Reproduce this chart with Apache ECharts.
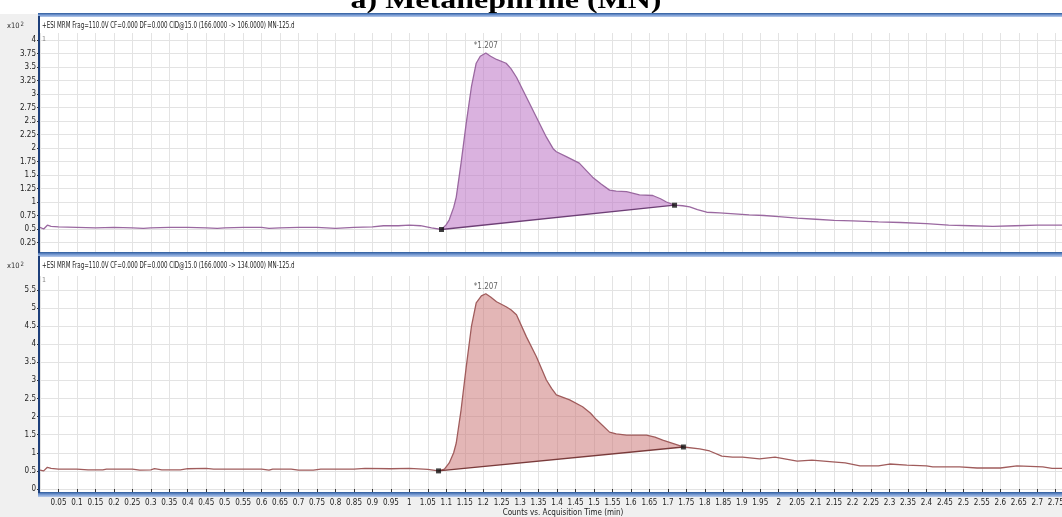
<!DOCTYPE html>
<html><head><meta charset="utf-8">
<script src="https://cdn.jsdelivr.net/npm/echarts@6/dist/echarts.min.js"></script>
<style>html,body{margin:0;padding:0;background:#fff}#c{width:1062px;height:517px}</style>
</head><body><div id="c"></div><script>
// ---- data (counts x10^2 vs acquisition time, min) ----
const topTime = [0.00,0.01,0.02,0.03,0.05,0.10,0.15,0.20,0.25,0.28,0.30,0.35,0.40,0.45,0.48,0.50,0.55,0.60,0.62,0.65,0.70,0.75,0.80,0.85,0.90,0.93,0.97,1.00,1.03,1.06,1.087,1.10,1.108,1.12,1.127,1.14,1.154,1.168,1.181,1.192,1.207,1.22,1.236,1.262,1.275,1.29,1.317,1.344,1.371,1.39,1.398,1.425,1.46,1.496,1.52,1.542,1.56,1.588,1.623,1.659,1.68,1.696,1.718,1.74,1.759,1.78,1.805,1.84,1.88,1.92,1.96,2.00,2.05,2.10,2.15,2.20,2.27,2.33,2.40,2.46,2.52,2.58,2.64,2.70,2.77];
const topCounts = [0.53,0.50,0.57,0.55,0.54,0.53,0.52,0.53,0.52,0.51,0.52,0.53,0.53,0.52,0.51,0.52,0.53,0.53,0.51,0.52,0.53,0.53,0.51,0.53,0.54,0.56,0.56,0.57,0.56,0.52,0.49,0.58,0.67,0.90,1.09,1.72,2.46,3.13,3.57,3.70,3.76,3.70,3.64,3.57,3.47,3.31,2.94,2.57,2.20,1.98,1.93,1.84,1.72,1.46,1.33,1.22,1.20,1.19,1.13,1.12,1.06,1.00,0.94,0.93,0.91,0.86,0.81,0.80,0.78,0.76,0.75,0.73,0.70,0.68,0.66,0.65,0.63,0.62,0.60,0.57,0.56,0.55,0.56,0.57,0.57];
const topStart = [1.087, 0.49];
const topEnd = [1.718, 0.94];
const topPeak = [1.207, 3.76];

const botTime = [0.00,0.01,0.02,0.03,0.05,0.10,0.13,0.17,0.18,0.25,0.27,0.30,0.31,0.33,0.38,0.40,0.45,0.47,0.60,0.62,0.63,0.68,0.70,0.74,0.76,0.85,0.88,0.95,1.00,1.05,1.079,1.095,1.108,1.12,1.127,1.14,1.154,1.168,1.181,1.195,1.207,1.22,1.236,1.262,1.275,1.29,1.317,1.344,1.371,1.385,1.398,1.434,1.469,1.49,1.507,1.542,1.56,1.588,1.642,1.665,1.686,1.742,1.786,1.813,1.846,1.875,1.902,1.948,1.99,2.05,2.09,2.146,2.18,2.22,2.27,2.30,2.347,2.40,2.417,2.49,2.537,2.60,2.645,2.715,2.74,2.77];
const botCounts = [0.52,0.50,0.60,0.57,0.55,0.55,0.53,0.53,0.55,0.55,0.52,0.53,0.56,0.53,0.53,0.56,0.57,0.55,0.55,0.52,0.55,0.55,0.52,0.52,0.55,0.55,0.57,0.56,0.57,0.54,0.50,0.55,0.72,1.00,1.27,2.18,3.37,4.48,5.14,5.33,5.39,5.30,5.17,5.03,4.95,4.81,4.20,3.65,3.01,2.78,2.60,2.46,2.27,2.10,1.91,1.57,1.52,1.49,1.49,1.43,1.35,1.16,1.11,1.05,0.91,0.88,0.88,0.83,0.88,0.77,0.80,0.75,0.72,0.64,0.64,0.69,0.66,0.64,0.61,0.61,0.58,0.58,0.64,0.61,0.57,0.57];
const botStart = [1.079, 0.50];
const botEnd = [1.742, 1.16];
const botPeak = [1.207, 5.39];

const topYTicks = [0.25,0.5,0.75,1,1.25,1.5,1.75,2,2.25,2.5,2.75,3,3.25,3.5,3.75,4];
const botYTicks = [0,0.5,1,1.5,2,2.5,3,3.5,4,4.5,5,5.5];
const topHeader = '+ESI MRM Frag=110.0V CF=0.000 DF=0.000 CID@15.0 (166.0000 -> 106.0000) MN-125.d';
const botHeader = '+ESI MRM Frag=110.0V CF=0.000 DF=0.000 CID@15.0 (166.0000 -> 134.0000) MN-125.d';
const titleText = 'a) Metanephrine (MN)';
const xAxisName = 'Counts vs. Acquisition Time (min)';

// ---- build ----
const FONT = "'Liberation Sans Narrow','DejaVu Sans Condensed',sans-serif";
const GRID_LINE = {show:true, lineStyle:{color:'#e3e3e3', width:1}};
const chart = echarts.init(document.getElementById('c'));

function pairs(t, c){ return t.map((x,i)=>[x,c[i]]); }
function fillSeries(gi, t, c, s, e, color){
  const pts = [s];
  t.forEach((x,i)=>{ if (x > s[0] && x < e[0]) pts.push([x, c[i]]); });
  pts.push(e);
  return {type:'custom', xAxisIndex:gi, yAxisIndex:gi, data:pts, encode:{x:0,y:1}, z:1, silent:true, clip:true,
    renderItem:(params, api)=>{
      if (params.dataIndex !== 0) return null;
      return {type:'polygon', shape:{points: pts.map(p=>api.coord(p))}, style:{fill:color}};
    }};
}
function panelSeries(gi, t, c, s, e, peak, lineColor, fillColor, baseColor){
  return [
    fillSeries(gi, t, c, s, e, fillColor),
    {type:'line', xAxisIndex:gi, yAxisIndex:gi, data:pairs(t,c), showSymbol:false, symbol:'none', z:3,
      lineStyle:{color:lineColor, width:1.3}, silent:true,
      markPoint:{symbol:'circle', symbolSize:0, silent:true,
        data:[{coord:peak, value:peak[0]}],
        label:{show:true, position:'top', distance:3, formatter:'*' + peak[0].toFixed(3), color:'#666', fontSize:8, fontFamily:FONT}}},
    {type:'line', xAxisIndex:gi, yAxisIndex:gi, data:[s,e], showSymbol:false, symbol:'none', z:3,
      lineStyle:{color:baseColor, width:1.3}, silent:true},
    {type:'scatter', xAxisIndex:gi, yAxisIndex:gi, data:[s,e], symbol:'rect', symbolSize:5, z:5,
      itemStyle:{color:'#111'}, silent:true}
  ];
}
const blueBand = {type:'linear', x:0, y:0, x2:0, y2:1, colorStops:[{offset:0,color:'#2c5a9a'},{offset:0.45,color:'#6d92cd'},{offset:1,color:'#b8cbeb'}]};

const option = {
  animation:false,
  backgroundColor:'#ffffff',
  grid:[
    {left:40, right:0, top:33, height:220, containLabel:false, outerBoundsMode:'none'},
    {left:40, right:0, top:276, height:217, containLabel:false, outerBoundsMode:'none'}
  ],
  xAxis:[
    {type:'value', gridIndex:0, min:0, max:2.767, interval:0.05,
      axisLine:{show:false}, axisTick:{show:false}, axisLabel:{show:false}, splitLine:GRID_LINE},
    {type:'value', gridIndex:1, min:0, max:2.767, interval:0.05,
      axisLine:{show:false}, axisTick:{show:true, length:3, inside:false, lineStyle:{color:'#333'}},
      axisLabel:{show:true, interval:0, margin:6, fontSize:8, color:'#222', fontFamily:FONT, showMinLabel:false, showMaxLabel:false},
      splitLine:GRID_LINE}
  ],
  yAxis:[
    {type:'value', gridIndex:0, min:0.055, max:4.13,
      axisLine:{show:false},
      axisTick:{show:true, length:3, customValues:topYTicks, lineStyle:{color:'#333'}},
      axisLabel:{show:true, customValues:topYTicks, margin:4, fontSize:8, color:'#222', fontFamily:FONT},
      splitLine:GRID_LINE},
    {type:'value', gridIndex:1, min:-0.11, max:5.88,
      axisLine:{show:false},
      axisTick:{show:true, length:3, customValues:botYTicks, lineStyle:{color:'#333'}},
      axisLabel:{show:true, customValues:botYTicks, margin:4, fontSize:8, color:'#222', fontFamily:FONT},
      splitLine:GRID_LINE}
  ],
  series:[].concat(
    panelSeries(0, topTime, topCounts, topStart, topEnd, topPeak, '#9a68a0', 'rgba(192,122,200,0.58)', '#6e3f76'),
    panelSeries(1, botTime, botCounts, botStart, botEnd, botPeak, '#a05c5c', 'rgba(204,122,122,0.55)', '#7a3b3b')
  ),
  graphic:[
    {type:'rect', z:-1, shape:{x:0, y:14, width:38, height:503}, style:{fill:'#f0f0f0'}, silent:true},
    {type:'rect', z:-1, shape:{x:0, y:497, width:1062, height:20}, style:{fill:'#f0f0f0'}, silent:true},
    {type:'text', z:19, x:506, y:14, scaleY:0.8, silent:true,
      style:{text:titleText, font:"bold 32px 'Liberation Serif', serif", fill:'#000', align:'center', verticalAlign:'bottom'}},
    {type:'rect', z:20, shape:{x:38, y:13, width:1024, height:4}, style:{fill:blueBand}, silent:true},
    {type:'rect', z:20, shape:{x:38, y:252, width:1024, height:5}, style:{fill:blueBand}, silent:true},
    {type:'rect', z:20, shape:{x:38, y:492, width:1024, height:5}, style:{fill:blueBand}, silent:true},
    {type:'rect', z:21, shape:{x:38, y:16, width:2, height:237}, style:{fill:'#1d3f7a'}, silent:true},
    {type:'rect', z:21, shape:{x:38, y:256, width:2, height:237}, style:{fill:'#1d3f7a'}, silent:true},
    {type:'text', z:22, x:42, y:26, scaleX:0.77, silent:true,
      style:{text:topHeader, font:"8px " + FONT, fill:'#222', align:'left', verticalAlign:'middle'}},
    {type:'text', z:22, x:42, y:266, scaleX:0.77, silent:true,
      style:{text:botHeader, font:"8px " + FONT, fill:'#222', align:'left', verticalAlign:'middle'}},
    {type:'text', z:22, x:7, y:26, silent:true,
      style:{text:'{a|x10}{b|2}', align:'left', verticalAlign:'middle', rich:{a:{fontSize:7.5, fontFamily:FONT, fill:'#333'}, b:{fontSize:6, fontFamily:FONT, fill:'#333', verticalAlign:'top', padding:[0,0,4,1]}}}},
    {type:'text', z:22, x:7, y:266, silent:true,
      style:{text:'{a|x10}{b|2}', align:'left', verticalAlign:'middle', rich:{a:{fontSize:7.5, fontFamily:FONT, fill:'#333'}, b:{fontSize:6, fontFamily:FONT, fill:'#333', verticalAlign:'top', padding:[0,0,4,1]}}}},
    {type:'text', z:22, x:42, y:39, silent:true,
      style:{text:'1', font:"7px " + FONT, fill:'#888', align:'left', verticalAlign:'middle'}},
    {type:'text', z:22, x:42, y:280, silent:true,
      style:{text:'1', font:"7px " + FONT, fill:'#888', align:'left', verticalAlign:'middle'}},
    {type:'text', z:22, x:563, y:513, silent:true,
      style:{text:xAxisName, font:"8px " + FONT, fill:'#222', align:'center', verticalAlign:'middle'}}
  ]
};
chart.setOption(option);
</script></body></html>
